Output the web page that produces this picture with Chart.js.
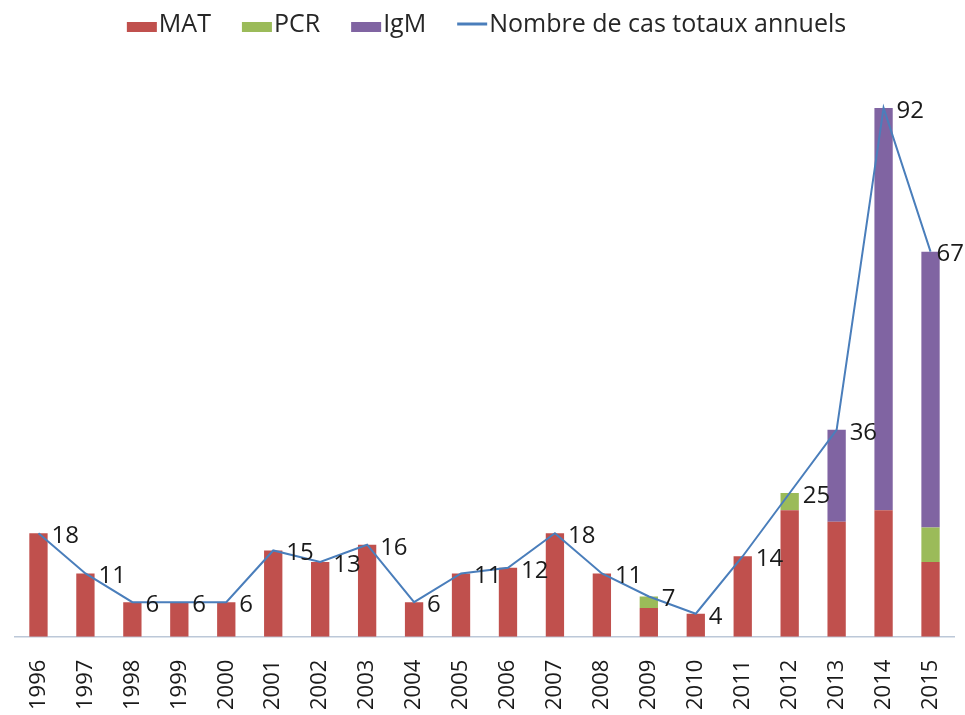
<!DOCTYPE html>
<html>
<head>
<meta charset="utf-8">
<script src="https://cdn.jsdelivr.net/npm/chart.js@4"></script>
<style>
  html, body { margin: 0; padding: 0; background: #ffffff; }
  #wrap { width: 965px; height: 715px; }
</style>
</head>
<body>
<div id="wrap"><canvas id="c" width="965" height="715"></canvas></div>
<script>
const years = ['1996','1997','1998','1999','2000','2001','2002','2003','2004','2005',
               '2006','2007','2008','2009','2010','2011','2012','2013','2014','2015'];
const matValues = [18, 11, 6, 6, 6, 15, 13, 16, 6, 11, 12, 18, 11, 5, 4, 14, 22, 20, 22, 13];
const pcrValues = [0, 0, 0, 0, 0, 0, 0, 0, 0, 0, 0, 0, 0, 2, 0, 0, 3, 0, 0, 6];
const igmValues = [0, 0, 0, 0, 0, 0, 0, 0, 0, 0, 0, 0, 0, 0, 0, 0, 0, 16, 70, 48];
const totalValues = [18, 11, 6, 6, 6, 15, 13, 16, 6, 11, 12, 18, 11, 7, 4, 14, 25, 36, 92, 67];
const seriesNames = ['MAT', 'PCR', 'IgM', 'Nombre de cas totaux annuels'];

const FONT = '"Open Sans", "Liberation Sans", sans-serif';

const legendPlugin = {
  id: 'customLegend',
  afterDraw(chart) {
    const ctx = chart.ctx;
    const ds = chart.data.datasets;
    ctx.save();
    ctx.font = '25px ' + FONT;
    const markerW = 30, markerGap = 2, itemGap = 31;
    let total = 0;
    ds.forEach((d, i) => {
      total += markerW + markerGap + ctx.measureText(d.label).width;
      if (i < ds.length - 1) total += itemGap;
    });
    let x = chart.width / 2 + 4 - total / 2;
    const baseY = 32;
    ds.forEach((d) => {
      if (d.type === 'line') {
        ctx.strokeStyle = d.borderColor;
        ctx.lineWidth = 3;
        ctx.beginPath();
        ctx.moveTo(x, 24);
        ctx.lineTo(x + markerW, 24);
        ctx.stroke();
      } else {
        ctx.fillStyle = d.backgroundColor;
        ctx.fillRect(x, baseY - 10, markerW, 10);
      }
      x += markerW + markerGap;
      ctx.fillStyle = '#262626';
      ctx.textAlign = 'left';
      ctx.textBaseline = 'alphabetic';
      ctx.fillText(d.label, x, baseY);
      x += ctx.measureText(d.label).width + itemGap;
    });
    ctx.restore();
  }
};

const labelPlugin = {
  id: 'totalLabels',
  afterDatasetsDraw(chart) {
    const ctx = chart.ctx;
    const idx = chart.data.datasets.findIndex(d => d.type === 'line');
    const meta = chart.getDatasetMeta(idx);
    const data = chart.data.datasets[idx].data;
    ctx.save();
    ctx.font = '24px ' + FONT;
    ctx.fillStyle = '#1a1a1a';
    ctx.textAlign = 'left';
    ctx.textBaseline = 'middle';
    meta.data.forEach((pt, i) => {
      const txt = String(data[i]);
      const w = ctx.measureText(txt).width;
      const x = Math.min(pt.x + 13, chart.width - w - 1);
      ctx.fillText(txt, x, pt.y + 3);
    });
    ctx.restore();
  }
};

new Chart(document.getElementById('c'), {
  data: {
    labels: years,
    datasets: [
      { type: 'bar', label: seriesNames[0], data: matValues, backgroundColor: '#c0504d', stack: 'cas', order: 2 },
      { type: 'bar', label: seriesNames[1], data: pcrValues, backgroundColor: '#9bbb59', stack: 'cas', order: 2 },
      { type: 'bar', label: seriesNames[2], data: igmValues, backgroundColor: '#8064a2', stack: 'cas', order: 2 },
      { type: 'line', label: seriesNames[3], data: totalValues, borderColor: '#4a7ebb', backgroundColor: '#4a7ebb',
        borderWidth: 2, pointRadius: 0, tension: 0, fill: false, stack: 'total', order: 1 }
    ]
  },
  options: {
    responsive: false,
    animation: false,
    devicePixelRatio: 1,
    layout: { padding: { top: 62, left: 15, right: 11, bottom: -18 } },
    datasets: { bar: { categoryPercentage: 1, barPercentage: 0.39 } },
    plugins: {
      legend: { display: false },
      tooltip: { enabled: false }
    },
    scales: {
      x: {
        stacked: true,
        offset: true,
        grid: { display: false, drawTicks: false },
        border: { display: true, color: '#bcc8d8', width: 1.5 },
        afterFit(scale) { scale.paddingLeft = 0; scale.paddingRight = 0; },
        ticks: {
          minRotation: 90, maxRotation: 90, padding: 23, autoSkip: false,
          color: '#1a1a1a', font: { family: FONT, size: 22 }
        }
      },
      y: {
        stacked: true,
        display: false,
        min: 0, max: 100
      }
    }
  },
  plugins: [legendPlugin, labelPlugin]
});
</script>
</body>
</html>
